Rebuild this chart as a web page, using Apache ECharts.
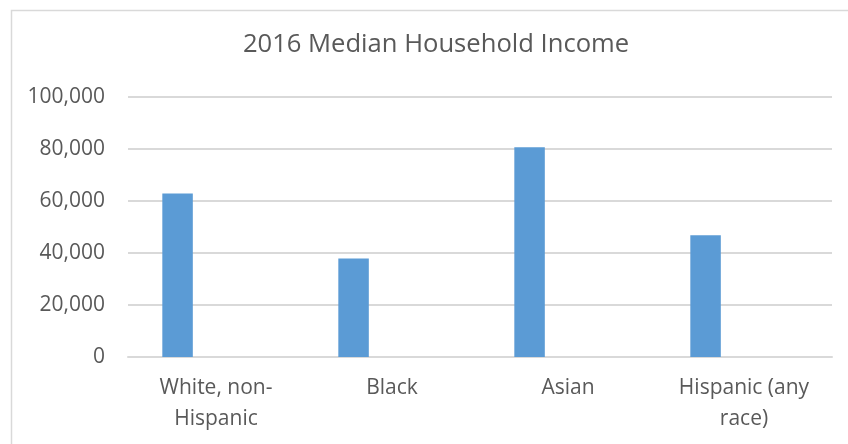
<!DOCTYPE html>
<html>
<head>
<meta charset="utf-8">
<script src="https://cdn.jsdelivr.net/npm/echarts@6/dist/echarts.min.js"></script>
<style>
html,body{margin:0;padding:0;background:#fff;}
#chart{width:848px;height:444px;}
</style>
</head>
<body>
<div id="chart"></div>
<script>
var titleText = "2016 Median Household Income";
var categories = ["White, non-\nHispanic", "Black", "Asian", "Hispanic (any\nrace)"];
var incomeValues = [62840, 37930, 80720, 46800];
var emptyValues = ["-", "-", "-", "-"];
var yMin = 0, yMax = 100000, yStep = 20000;

var chart = echarts.init(document.getElementById('chart'), null, {renderer: 'canvas'});
var font = '"Open Sans", "Liberation Sans", sans-serif';
chart.setOption({
  animation: false,
  backgroundColor: '#ffffff',
  graphic: [{
    type: 'rect', left: 9, top: 8, silent: true,
    shape: {width: 900, height: 500},
    style: {fill: 'none', stroke: '#d9d9d9', lineWidth: 1.5}
  }],
  title: {
    text: titleText, left: 431, top: 27, textAlign: 'center',
    textStyle: {fontFamily: font, fontSize: 25.6, fontWeight: 'normal', color: '#595959'}
  },
  grid: {left: 128, right: 16, top: 97, bottom: 87, containLabel: false},
  xAxis: {
    type: 'category', data: categories,
    axisLine: {show: true, lineStyle: {color: '#d9d9d9', width: 2}},
    axisTick: {show: false},
    axisLabel: {fontFamily: font, fontSize: 21, color: '#595959', margin: 16, lineHeight: 31, interval: 0}
  },
  yAxis: {
    type: 'value', min: yMin, max: yMax, interval: yStep,
    axisLine: {show: false}, axisTick: {show: false},
    splitLine: {lineStyle: {color: '#d9d9d9', width: 2}},
    axisLabel: {fontFamily: font, fontSize: 21, color: '#595959', margin: 23,
      formatter: function (v) { return v.toLocaleString('en-US'); }}
  },
  series: [
    {type: 'bar', data: incomeValues, barWidth: 30.5, barGap: '152%',
     itemStyle: {color: '#5b9bd5'}},
    {type: 'bar', data: emptyValues, barWidth: 30.5, itemStyle: {color: '#ed7d31'}}
  ]
});
</script>
</body>
</html>
